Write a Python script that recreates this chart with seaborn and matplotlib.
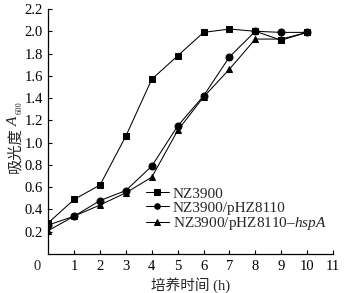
import matplotlib
matplotlib.use("Agg")
import matplotlib.pyplot as plt
import seaborn as sns
import pandas as pd

hours = [0, 1, 2, 3, 4, 5, 6, 7, 8, 9, 10]
nz3900 = [0.28, 0.49, 0.62, 1.06, 1.57, 1.78, 1.99, 2.02, 2.00, 1.92, 1.99]
phz8110 = [0.26, 0.34, 0.48, 0.57, 0.79, 1.15, 1.42, 1.77, 2.00, 1.99, 1.99]
hspa = [0.21, 0.34, 0.44, 0.55, 0.69, 1.11, 1.41, 1.66, 1.93, 1.93, 1.99]
labels = ["NZ3900", "NZ3900/pHZ8110", "NZ3900/pHZ8110–$\\mathit{hspA}$"]
xticks = [1, 2, 3, 4, 5, 6, 7, 8, 9, 10, 11]
yticks = [0.2, 0.4, 0.6, 0.8, 1.0, 1.2, 1.4, 1.6, 1.8, 2.0, 2.2]

sns.set_style("ticks")
plt.rcParams['font.family'] = ['Liberation Serif', 'Noto Sans CJK SC']
plt.rcParams['mathtext.fontset'] = 'custom'
plt.rcParams['mathtext.it'] = 'Liberation Serif:italic'
plt.rcParams['mathtext.rm'] = 'Liberation Serif'

fig = plt.figure(figsize=(3.44, 2.93), dpi=100)
ax = fig.add_axes([48.3/344, 1-254/293, (333-48.3)/344, (254-9)/293])

markers = ["s", "o", "^"]
sizes = [5, 5, 5]
for vals, lab, m, s in zip([nz3900, phz8110, hspa], labels, markers, sizes):
    df = pd.DataFrame({"h": hours, "v": vals})
    sns.lineplot(data=df, x="h", y="v", ax=ax, color="black", marker=m,
                 markersize=s, linewidth=0.75, markeredgecolor="black",
                 label=lab)

ax.set_xlim(0, 11)
ax.set_ylim(0, 2.2)
ax.set_xticks(xticks)
ax.set_xticklabels([str(t) for t in xticks])
ax.set_yticks(yticks)
ax.set_yticklabels([f"{t:.1f}" for t in yticks])
for s in ["top", "right"]:
    ax.spines[s].set_visible(False)
for s in ["left", "bottom"]:
    ax.spines[s].set_linewidth(0.9)
    ax.spines[s].set_color("black")
ax.tick_params(direction="in", length=3, width=0.8, labelsize=10.5, pad=4, colors="black")
fig.text(37/344, 1-266/293, "0", ha="center", va="center", fontsize=10.5)

ax.set_xlabel("培养时间 (h)", fontsize=10.5, labelpad=3)
ax.set_ylabel("")
# y label built from parts: Chinese text, italic A, subscript 600
fig.text(15/344, 1-150/293, "吸光度", rotation=90, ha="center", va="center",
         fontsize=11, family="Noto Sans CJK SC")
fig.text(14/344, 1-121/293, "A", rotation=90, ha="center", va="center",
         fontsize=11, style="italic", family="Liberation Serif")
fig.text(20/344, 1-108/293, "600", rotation=90, ha="center", va="center",
         fontsize=6, family="Liberation Serif")

leg = ax.legend(loc="upper left", bbox_to_anchor=(146/344, 1-187/293),
                bbox_transform=fig.transFigure, frameon=False, fontsize=11,
                handlelength=1.5, handletextpad=0.25, labelspacing=0.02,
                borderpad=0, borderaxespad=0, markerscale=0.8)

fig.savefig("out.png", dpi=100)
